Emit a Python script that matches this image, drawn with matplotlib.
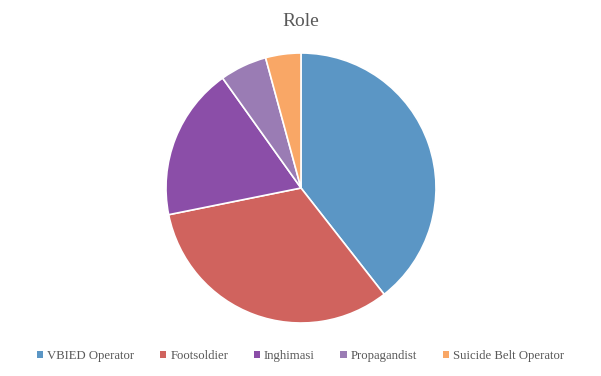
import matplotlib.pyplot as plt
from matplotlib.patches import Patch

# Role breakdown (counts)
roles = ["VBIED Operator", "Footsoldier", "Inghimasi", "Propagandist", "Suicide Belt Operator"]
counts = [28, 23, 13, 4, 3]
colors = ["#5B96C5", "#D0635E", "#8B4EA8", "#9A7CB4", "#F9A766"]

plt.rcParams['font.family'] = ['Liberation Serif', 'DejaVu Serif']

fig = plt.figure(figsize=(6.01, 3.76), dpi=100)
ax = fig.add_axes([166 / 601, 53 / 376, 270 / 601, 270 / 376])
ax.pie(counts, colors=colors, startangle=90, counterclock=False,
       wedgeprops=dict(edgecolor="white", linewidth=1.2))
ax.set_xlim(-1, 1)
ax.set_ylim(-1, 1)
ax.set_aspect("equal")

fig.text(0.5, 1 - 22 / 376, "Role", ha="center", va="center", fontsize=14, color="#595959")

handles = [Patch(facecolor=c, edgecolor="none") for c in colors]
fig.legend(handles, roles, loc="center", bbox_to_anchor=(0.5, 1 - 356 / 376), ncol=5,
           frameon=False, fontsize=9.2, handlelength=0.5, handleheight=0.5,
           handletextpad=0.3, columnspacing=2.0, labelcolor="#595959")

fig.savefig("out.png", dpi=100)
